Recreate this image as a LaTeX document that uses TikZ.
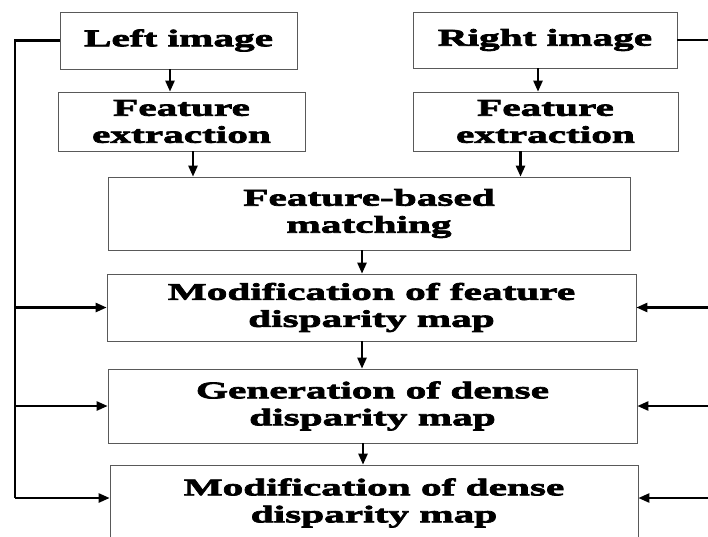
\documentclass[tikz,border=0pt]{standalone}
\usepackage{fontspec}
\usepackage{tikz}
\usetikzlibrary{positioning,arrows.meta}
\newfontfamily\boxfont[FakeStretch=1.72,FakeBold=3]{Liberation Serif Bold}
\tikzset{blk/.style={rectangle,draw=black!65,line width=0.7pt,inner sep=0pt,align=center,font=\boxfont\fontsize{24}{27}\selectfont}}

\begin{document}
\begin{tikzpicture}[>={Triangle[length=11pt,width=9pt]},x=1pt,y=-1pt,line width=2.4pt]
        \useasboundingbox (0,0) rectangle (708,536);
        \node[blk,minimum width=237,minimum height=57] (limg) at (178.5,40.5) {Left image};
        \node[blk,minimum width=247,minimum height=59] (lfe) at (181.5,121.5) {Feature\\extraction};
        \node[blk,minimum width=264,minimum height=56] (rimg) at (545,40) {Right image};
        \node[blk,minimum width=265,minimum height=59] (rfe) at (545.5,121.5) {Feature\\extraction};
        \node[blk,minimum width=522,minimum height=73] (match) at (369,213.5) {Feature-based\\matching};
        \node[blk,minimum width=529,minimum height=67] (modf) at (371.5,307.5) {Modification of feature\\disparity map};
        \node[blk,minimum width=529,minimum height=74] (gen) at (372.5,406) {Generation of dense\\disparity map};
        \node[blk,minimum width=528,minimum height=76] (modd) at (374,503) {Modification of dense\\disparity map};

        \coordinate (lbus) at (15,498);
        \coordinate (rbus) at (714,498);

        \draw [->] ([xshift=-8.5pt]limg.south) -- ([xshift=-8.5pt]limg.south |- lfe.north);
        \draw [->] ([xshift=11.5pt]lfe.south) -- ([xshift=11.5pt]lfe.south |- match.north);
        \draw [->] ([xshift=-7pt]rimg.south) -- ([xshift=-7pt]rimg.south |- rfe.north);
        \draw [->] ([xshift=-25pt]rfe.south) -- ([xshift=-25pt]rfe.south |- match.north);
        \draw [->] ([xshift=-7pt]match.south) -- ([xshift=-7pt]match.south |- modf.north);
        \draw [->] ([xshift=-9.5pt]modf.south) -- ([xshift=-9.5pt]modf.south |- gen.north);
        \draw [->] ([xshift=-9.5pt]gen.south) -- ([xshift=-9.5pt]gen.south |- modd.north);

        % left image feeds the lower three steps
        \draw (limg.west) -| (lbus);
        \draw [->] (lbus |- modf.west) -- (modf.west);
        \draw [->] (lbus |- gen.west) -- (gen.west);
        \draw [->] (lbus) -- (lbus -| modd.west);

        % right image, same
        \draw (rimg.east) -| (rbus);
        \draw [->] (rbus |- modf.east) -- (modf.east);
        \draw [->] (rbus |- gen.east) -- (gen.east);
        \draw [->] (rbus) -- (rbus -| modd.east);
    \end{tikzpicture}
\end{document}
